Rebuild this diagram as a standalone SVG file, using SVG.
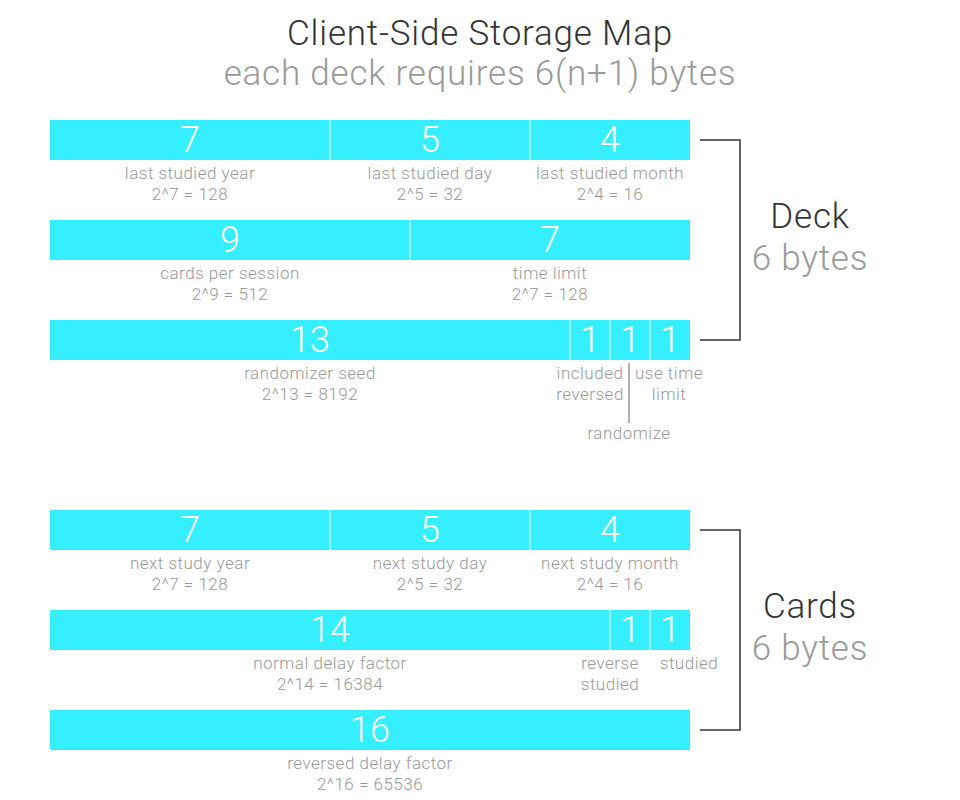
<svg xmlns="http://www.w3.org/2000/svg" width="960" height="800" viewBox="0 0 960 800">
<style>
.bar{fill:#35EFFF}
.div{stroke:#fff;stroke-width:1}
.num{font-family:Roboto,"Liberation Sans",sans-serif;font-weight:300;font-size:36px;fill:#fff;text-anchor:middle}
.lbl{font-family:Roboto,"Liberation Sans",sans-serif;font-weight:300;font-size:17px;letter-spacing:0.5px;fill:#999;text-anchor:middle}
.title{font-family:Roboto,"Liberation Sans",sans-serif;font-weight:300;font-size:35px;letter-spacing:0.8px;fill:#333;text-anchor:middle}
.sub{font-family:Roboto,"Liberation Sans",sans-serif;font-weight:300;font-size:35px;letter-spacing:0.8px;fill:#999;text-anchor:middle}
.br{fill:none;stroke:#333;stroke-width:1.5}
.lead{stroke:#999;stroke-width:1.5}
</style>
<rect width="960" height="800" fill="#fff"/>
<text class="title" x="480" y="45">Client-Side Storage Map</text>
<text class="sub" x="480" y="85">each deck requires 6(n+1) bytes</text>

<g id="deck-row1">
<rect class="bar" x="50" y="120" width="640" height="40"/>
<line class="div" x1="330" y1="120" x2="330" y2="160"/>
<line class="div" x1="530" y1="120" x2="530" y2="160"/>
<text class="num" x="190" y="152">7</text>
<text class="num" x="430" y="152">5</text>
<text class="num" x="610" y="152">4</text>
<text class="lbl" x="190" y="179">last studied year</text>
<text class="lbl" x="190" y="200">2^7 = 128</text>
<text class="lbl" x="430" y="179">last studied day</text>
<text class="lbl" x="430" y="200">2^5 = 32</text>
<text class="lbl" x="610" y="179">last studied month</text>
<text class="lbl" x="610" y="200">2^4 = 16</text>
</g>
<g id="deck-row2">
<rect class="bar" x="50" y="220" width="640" height="40"/>
<line class="div" x1="410" y1="220" x2="410" y2="260"/>
<text class="num" x="230" y="252">9</text>
<text class="num" x="550" y="252">7</text>
<text class="lbl" x="230" y="279">cards per session</text>
<text class="lbl" x="230" y="300">2^9 = 512</text>
<text class="lbl" x="550" y="279">time limit</text>
<text class="lbl" x="550" y="300">2^7 = 128</text>
</g>
<g id="deck-row3">
<rect class="bar" x="50" y="320" width="640" height="40"/>
<line class="div" x1="570" y1="320" x2="570" y2="360"/>
<line class="div" x1="610" y1="320" x2="610" y2="360"/>
<line class="div" x1="650" y1="320" x2="650" y2="360"/>
<text class="num" x="310" y="352">13</text>
<text class="num" x="590" y="352">1</text>
<text class="num" x="630" y="352">1</text>
<text class="num" x="670" y="352">1</text>
<text class="lbl" x="310" y="379">randomizer seed</text>
<text class="lbl" x="310" y="400">2^13 = 8192</text>
<text class="lbl" x="590" y="379">included</text>
<text class="lbl" x="590" y="400">reversed</text>
<text class="lbl" x="669" y="379">use time</text>
<text class="lbl" x="669" y="400">limit</text>
<text class="lbl" x="629" y="439">randomize</text>
</g>
<g id="deck-label">
<text class="title" x="810" y="228">Deck</text>
<text class="sub" x="810" y="270">6 bytes</text>
</g>

<g id="cards-row1">
<rect class="bar" x="50" y="510" width="640" height="40"/>
<line class="div" x1="330" y1="510" x2="330" y2="550"/>
<line class="div" x1="530" y1="510" x2="530" y2="550"/>
<text class="num" x="190" y="542">7</text>
<text class="num" x="430" y="542">5</text>
<text class="num" x="610" y="542">4</text>
<text class="lbl" x="190" y="569">next study year</text>
<text class="lbl" x="190" y="590">2^7 = 128</text>
<text class="lbl" x="430" y="569">next study day</text>
<text class="lbl" x="430" y="590">2^5 = 32</text>
<text class="lbl" x="610" y="569">next study month</text>
<text class="lbl" x="610" y="590">2^4 = 16</text>
</g>
<g id="cards-row2">
<rect class="bar" x="50" y="610" width="640" height="40"/>
<line class="div" x1="610" y1="610" x2="610" y2="650"/>
<line class="div" x1="650" y1="610" x2="650" y2="650"/>
<text class="num" x="330" y="642">14</text>
<text class="num" x="630" y="642">1</text>
<text class="num" x="670" y="642">1</text>
<text class="lbl" x="330" y="669">normal delay factor</text>
<text class="lbl" x="330" y="690">2^14 = 16384</text>
<text class="lbl" x="610" y="669">reverse</text>
<text class="lbl" x="610" y="690">studied</text>
<text class="lbl" x="689" y="669">studied</text>
</g>
<g id="cards-row3">
<rect class="bar" x="50" y="710" width="640" height="40"/>
<text class="num" x="370" y="742">16</text>
<text class="lbl" x="370" y="769">reversed delay factor</text>
<text class="lbl" x="370" y="790">2^16 = 65536</text>
</g>
<g id="cards-label">
<text class="title" x="810" y="618">Cards</text>
<text class="sub" x="810" y="660">6 bytes</text>
</g>

<g id="connectors">
<path class="br" d="M700 140H740V340H700"/>
<path class="br" d="M700 530H740V730H700"/>
<line class="lead" x1="629" y1="363" x2="629" y2="423"/>
</g>
</svg>
